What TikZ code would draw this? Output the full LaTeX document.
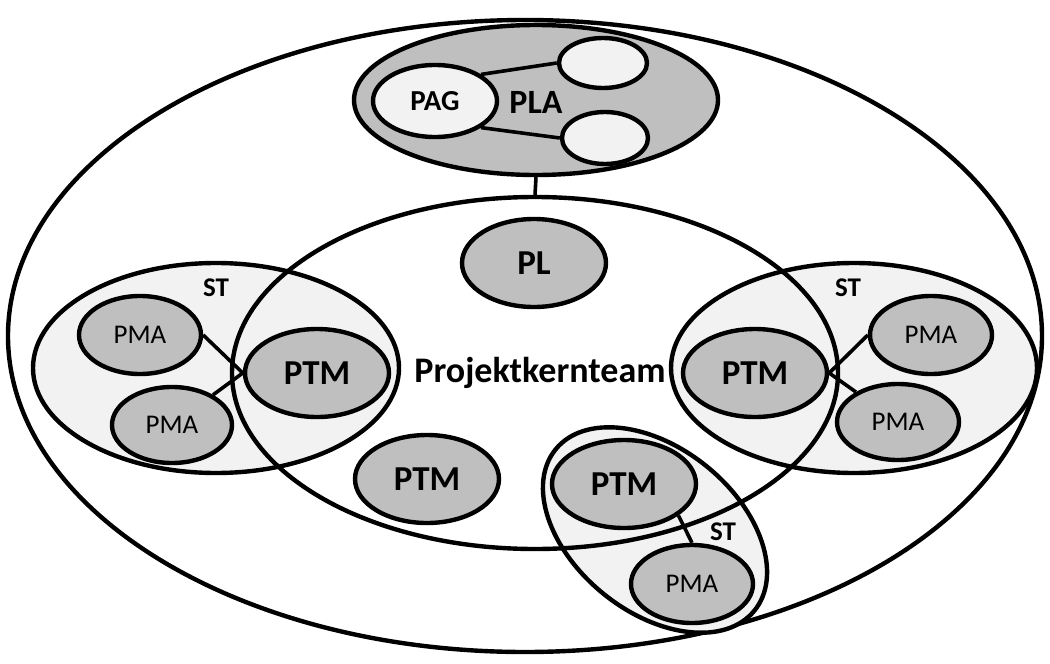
\documentclass[tikz,border=0pt]{standalone}
\usepackage{fontspec}
\setmainfont{Carlito}
\usetikzlibrary{shapes.geometric}
\definecolor{midgray}{HTML}{BFBFBF}
\definecolor{lightgray}{HTML}{F2F2F2}
\pgfdeclarelayer{containers}
\pgfdeclarelayer{links}
\pgfsetlayers{containers,links,main}
\tikzset{
  oval/.style={ellipse, draw, line width=4.4pt, inner sep=0pt,
    minimum width=#1},
  member/.style={oval=144, minimum height=88, fill=midgray,
    font=\bfseries\fontsize{35}{40}\selectfont},
  staff/.style={oval=122, minimum height=78, fill=midgray,
    font=\fontsize{27}{32}\selectfont},
  subteam/.style={oval=366, minimum height=210, fill=lightgray},
  link/.style={line width=3.6pt},
  tag/.style={font=\bfseries\fontsize{27}{32}\selectfont, inner sep=0pt}
}
\begin{document}
\begin{tikzpicture}[x=1pt, y=-1pt]
\useasboundingbox (0,0) rectangle (1050,664);

\begin{pgfonlayer}{containers}
  % whole project organisation
  \node[oval=1034, minimum height=632] (outer) at (525,336) {};
  % steering body
  \node[oval=364, minimum height=150, fill=midgray] (pla) at (536,100) {};
  % sub-teams
  \node[subteam] (stL) at (216,368) {};
  \node[subteam] (stR) at (854,368) {};
  \node[oval=256, minimum height=164, fill=lightgray, rotate=-39] (stB) at (655,530) {};
  % core team
  \node[oval=606, minimum height=352] (pk) at (535,373) {};
\end{pgfonlayer}

% steering body members
\node[oval=124, minimum height=72, fill=lightgray,
      font=\bfseries\fontsize{29}{33}\selectfont] (pag) at (435,101) {PAG};
\node[oval=88, minimum height=50, fill=lightgray] (pu) at (603,63) {};
\node[oval=86, minimum height=52, fill=lightgray] (pd) at (605,138) {};
\node[font=\bfseries\fontsize{34}{38}\selectfont, inner sep=0pt] (plalabel) at (536,102) {PLA};

% labels
\node[font=\bfseries\fontsize{36}{42}\selectfont, inner sep=0pt] (pklabel) at (540,373) {Projektkernteam};
\node[tag] (stLlabel) at (216,288) {ST};
\node[tag] (stRlabel) at (848,288) {ST};
\node[tag] (stBlabel) at (723,532) {ST};

% members
\node[member] (pl) at (534,263) {PL};
\node[member] (ptmL) at (317,373) {PTM};
\node[member] (ptmR) at (755,373) {PTM};
\node[member] (ptmM) at (427,479) {PTM};
\node[member] (ptmB) at (624,484) {PTM};
\node[staff] (pmaL1) at (140,335) {PMA};
\node[staff, minimum width=120, minimum height=76] (pmaL2) at (172,425) {PMA};
\node[staff] (pmaR1) at (931,335) {PMA};
\node[staff, minimum height=76] (pmaR2) at (898,422) {PMA};
\node[staff] (pmaB) at (692,584) {PMA};

% connectors, kept beneath the member ovals
\begin{pgfonlayer}{links}
  \draw[link] (pla.south) -- (pk.north);
  \draw[link] (pag.30) -- (pu.west);
  \draw[link] (pag.-30) -- (pd.west);
  \draw[link] (pmaL1.east) -- (ptmL.west);
  \draw[link] (pmaL2) -- (ptmL.west);
  \draw[link] (pmaR1.west) -- (ptmR.east);
  \draw[link] (pmaR2) -- (ptmR.east);
  \draw[link] (ptmB.-30) -- (pmaB.north);
\end{pgfonlayer}
\end{tikzpicture}
\end{document}
